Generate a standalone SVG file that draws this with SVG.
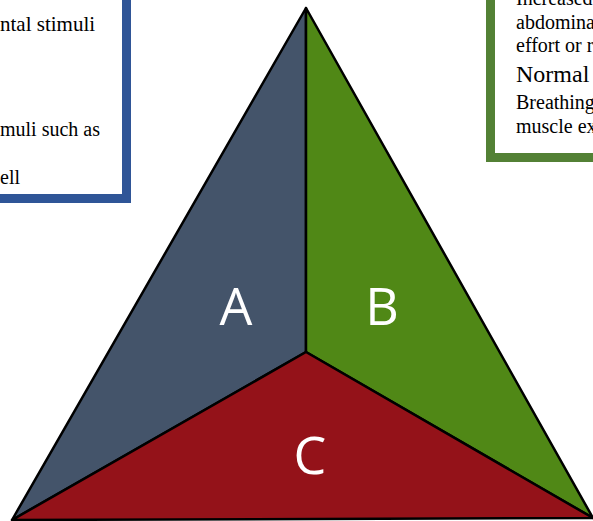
<svg xmlns="http://www.w3.org/2000/svg" width="593" height="521" viewBox="0 0 593 521">
<style>
.box{fill:#fff;stroke-width:9}
.t{font-family:"Liberation Serif","Times New Roman",serif;font-size:20px;fill:#000}
.big{font-size:24px}
.lbl{font-family:"Open Sans","Liberation Sans",sans-serif;font-size:52px;fill:#fff;text-anchor:middle}
.seg{stroke:#000;stroke-width:2.5;stroke-linejoin:round}
</style>
<rect width="593" height="521" fill="#fff"/>
<g id="box-left">
<rect class="box" x="-30" y="-30" width="156.5" height="228.5" stroke="#2F5597"/>
<text class="t" x="0" y="31" style="font-size:21px">ntal stimuli</text>
<text class="t" x="0" y="136">muli such as</text>
<text class="t" x="0" y="184">ell</text>
</g>
<g id="box-right">
<rect class="box" x="490.5" y="-30" width="140" height="187.5" stroke="#538135"/>
<text class="t" x="516" y="5">Increased</text>
<text class="t" x="516" y="29">abdominal</text>
<text class="t" x="516" y="52">effort or r</text>
<text class="t big" x="516" y="82">Normal</text>
<text class="t" x="516" y="109">Breathing</text>
<text class="t" x="516" y="133">muscle ex</text>
</g>
<g id="seg-A">
<polygon class="seg" points="306,8 306,352 12,520" fill="#44546A"/>
<text class="lbl" x="236" y="325">A</text>
</g>
<g id="seg-B">
<polygon class="seg" points="306,8 593,518 306,352" fill="#508816"/>
<text class="lbl" x="382" y="325">B</text>
</g>
<g id="seg-C">
<polygon class="seg" points="306,352 593,518 12,520" fill="#941219"/>
<text class="lbl" x="310" y="474">C</text>
</g>
</svg>
